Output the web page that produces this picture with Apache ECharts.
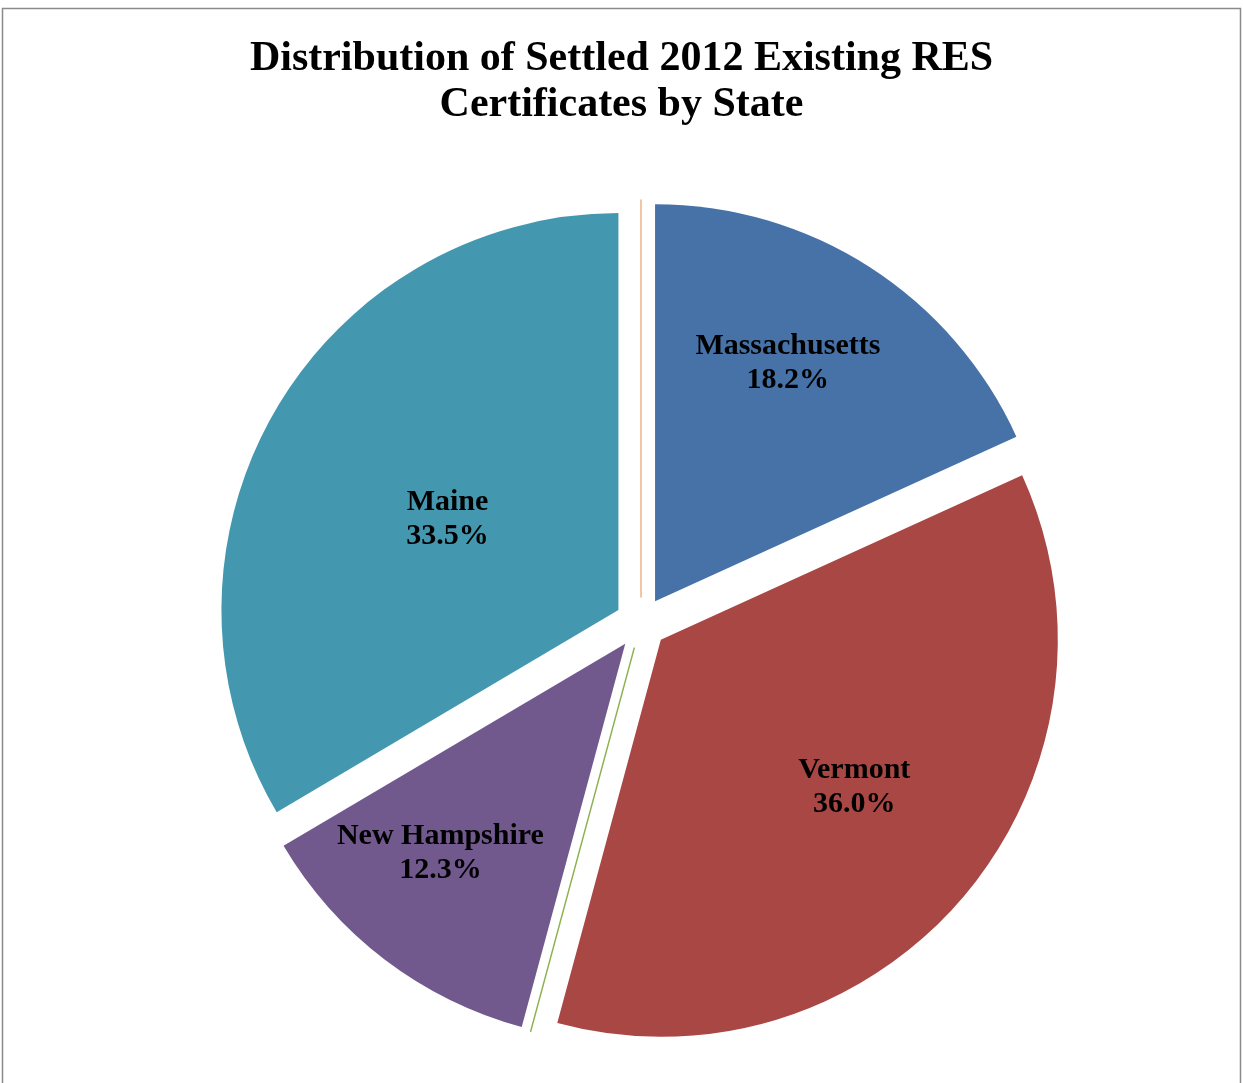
<!DOCTYPE html>
<html>
<head>
<meta charset="utf-8">
<title>Distribution of Settled 2012 Existing RES Certificates by State</title>
<script src="https://cdn.jsdelivr.net/npm/echarts@6/dist/echarts.min.js"></script>
<style>
  html, body { margin: 0; padding: 0; background: #ffffff; }
  #chart { width: 1243px; height: 1083px; }
</style>
</head>
<body>
<div id="chart"></div>
<script>
// Share of settled certificates per state (percent), clockwise from 12 o'clock.
// Two states settled nothing and show up only as hairline slices.
const states = ['Massachusetts', 'Vermont', 'Connecticut', 'New Hampshire', 'Maine', 'Rhode Island'];
const shares = [18.2, 36.0, 0, 12.3, 33.5, 0];

const colors = ['#4672A8', '#A94745', '#8DB150', '#71598E', '#4398B0', '#EDB48A'];

// Label placement inside each slice: angle (deg, clockwise from top) and fraction of radius
const labelAngle = [29, 127, 0, 221.7, 298.5, 0];
const labelRadius = [0.69, 0.61, 0, 0.70, 0.49, 0];

const CX = 641, CY = 623, R = 397, EXPLODE = 26;
const SERIF = '"Liberation Serif", "Times New Roman", "DejaVu Serif", serif';

// bisector of each slice (deg clockwise from top), from the cumulative shares
const total = shares.reduce((a, b) => a + b, 0);
const mids = [];
let acc = 0;
shares.forEach(v => { mids.push((acc + v / 2) / total * 360); acc += v; });

const rad = d => d * Math.PI / 180;

// Exploded pie: one pie layer per slice, each pushed out along its own bisector;
// in layer i only slice i is painted, the rest stay transparent.
const layers = states.map((_, i) => {
  const m = rad(mids[i]);
  const cx = CX + EXPLODE * Math.sin(m);
  const cy = CY - EXPLODE * Math.cos(m);
  return {
    type: 'pie',
    name: states[i],
    center: [cx, cy],
    radius: [0, R],
    startAngle: 90,
    clockwise: true,
    minAngle: 0,
    silent: true,
    emphasis: { disabled: true },
    labelLine: { show: false },
    label: {
      show: false,
      position: 'inside',
      fontFamily: SERIF,
      fontWeight: 'bold',
      fontSize: 30,
      lineHeight: 34,
      color: '#000000',
      formatter: p => p.name + '\n' + p.value.toFixed(1) + '%'
    },
    labelLayout: function () {
      const a = rad(labelAngle[i]);
      const r = labelRadius[i] * R;
      return { x: cx + r * Math.sin(a), y: cy - r * Math.cos(a) + 2, align: 'center', verticalAlign: 'middle' };
    },
    data: states.map((name, j) => {
      const own = j === i;
      const hairline = own && shares[j] === 0;
      return {
        name: name,
        value: shares[j],
        itemStyle: own
          ? { color: colors[j], borderColor: colors[j], borderWidth: hairline ? 1.5 : 0 }
          : { color: 'rgba(0,0,0,0)', borderWidth: 0 },
        label: { show: own && shares[j] !== 0 }
      };
    })
  };
});

const chart = echarts.init(document.getElementById('chart'), null, { renderer: 'canvas' });

chart.setOption({
  animation: false,
  backgroundColor: '#ffffff',
  title: {
    text: 'Distribution of Settled 2012 Existing RES\nCertificates by State',
    left: 'center',
    top: 31,
    textStyle: {
      fontFamily: SERIF,
      fontWeight: 'bold',
      fontSize: 42,
      lineHeight: 46,
      color: '#000000'
    }
  },
  graphic: [{
    type: 'rect',
    silent: true,
    shape: { x: 2.5, y: 8.5, width: 1238, height: 1100 },
    style: { fill: null, stroke: '#8a8a8a', lineWidth: 1.5 }
  }],
  series: layers
});
</script>
</body>
</html>
